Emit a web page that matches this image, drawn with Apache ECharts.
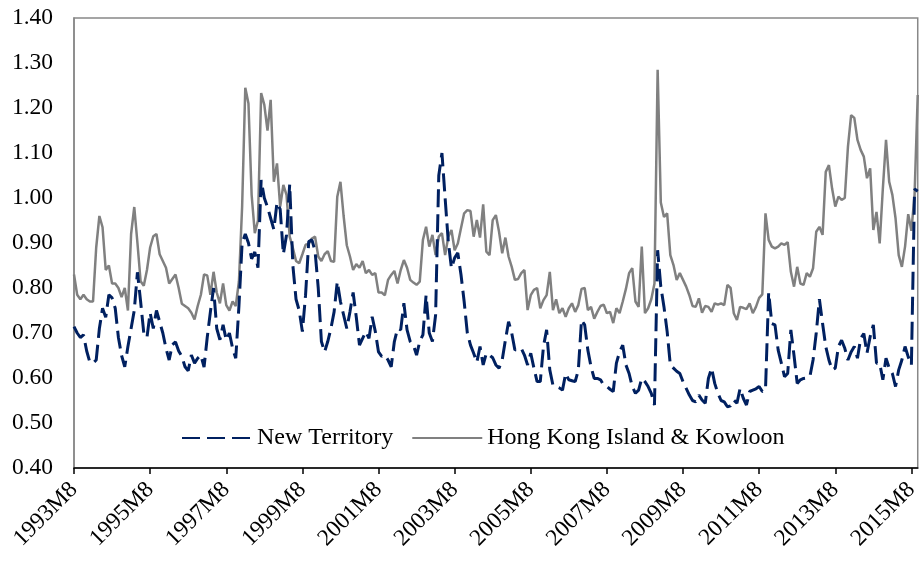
<!DOCTYPE html>
<html>
<head>
<meta charset="utf-8">
<script src="https://cdn.jsdelivr.net/npm/echarts@6/dist/echarts.min.js"></script>
<style>
  html, body { margin: 0; padding: 0; background: #ffffff; }
  #chart { width: 922px; height: 563px; }
</style>
</head>
<body>
<div id="chart"></div>
<script>
// Monthly categories 1993M8 .. 2015M10
const startYear = 1993, startMonth = 8, monthCount = 267;
const categories = [];
for (let k = 0; k < monthCount; k++) {
  const m0 = startMonth - 1 + k;
  categories.push((startYear + Math.floor(m0 / 12)) + 'M' + ((m0 % 12) + 1));
}

const yTicks = [0.40, 0.50, 0.60, 0.70, 0.80, 0.90, 1.00, 1.10, 1.20, 1.30, 1.40];

const seriesNames = ['New Territory', 'Hong Kong Island & Kowloon'];

const newTerritory = [
  0.714,0.70,0.69,0.696,0.66,0.635,0.633,0.64,0.71,0.755,
  0.735,0.785,0.778,0.755,0.69,0.65,0.625,0.67,0.71,0.75,
  0.835,0.77,0.70,0.69,0.745,0.71,0.75,0.725,0.70,0.666,
  0.64,0.674,0.68,0.66,0.648,0.625,0.616,0.651,0.633,0.644,
  0.651,0.624,0.69,0.747,0.80,0.71,0.685,0.718,0.684,0.70,
  0.666,0.644,0.76,0.90,0.92,0.90,0.865,0.88,0.845,1.04,
  1.0,0.98,0.955,0.93,0.99,0.975,0.875,0.918,1.03,0.85,
  0.775,0.75,0.703,0.784,0.903,0.907,0.882,0.80,0.681,0.658,
  0.681,0.71,0.747,0.814,0.77,0.74,0.71,0.747,0.79,0.735,
  0.673,0.688,0.703,0.688,0.736,0.703,0.658,0.648,0.651,0.64,
  0.625,0.681,0.71,0.707,0.766,0.707,0.681,0.673,0.651,0.681,
  0.696,0.784,0.70,0.681,0.74,1.05,1.10,1.0,0.903,0.844,
  0.867,0.878,0.83,0.77,0.70,0.673,0.655,0.635,0.67,0.629,
  0.655,0.651,0.645,0.629,0.622,0.64,0.684,0.725,0.70,0.662,
  0.665,0.666,0.651,0.629,0.655,0.622,0.592,0.592,0.67,0.707,
  0.618,0.584,0.581,0.578,0.573,0.61,0.596,0.594,0.592,0.618,
  0.729,0.718,0.662,0.625,0.599,0.599,0.596,0.584,0.581,0.575,
  0.57,0.633,0.658,0.673,0.629,0.61,0.581,0.566,0.573,0.599,
  0.592,0.581,0.566,0.54,0.884,0.803,0.758,0.703,0.629,0.622,
  0.615,0.61,0.592,0.577,0.562,0.55,0.547,0.562,0.551,0.544,
  0.599,0.622,0.588,0.566,0.55,0.547,0.536,0.538,0.551,0.544,
  0.577,0.555,0.54,0.57,0.573,0.576,0.581,0.57,0.573,0.79,
  0.721,0.718,0.662,0.633,0.603,0.61,0.707,0.65,0.588,0.596,
  0.599,0.60,0.603,0.64,0.70,0.775,0.721,0.67,0.64,0.618,
  0.622,0.67,0.684,0.666,0.64,0.658,0.67,0.644,0.688,0.699,
  0.655,0.692,0.718,0.633,0.633,0.596,0.644,0.622,0.61,0.581,
  0.618,0.64,0.67,0.647,0.629,1.02,1.015
];

const hkIslandKowloon = [
  0.83,0.785,0.775,0.785,0.775,0.77,0.77,0.89,0.96,0.935,
  0.84,0.85,0.81,0.81,0.80,0.78,0.80,0.75,0.92,0.98,
  0.90,0.815,0.805,0.84,0.89,0.915,0.92,0.875,0.86,0.845,
  0.81,0.82,0.83,0.80,0.765,0.76,0.755,0.745,0.73,0.76,
  0.785,0.83,0.828,0.785,0.836,0.79,0.766,0.81,0.762,0.75,
  0.77,0.76,0.815,0.98,1.245,1.21,1.007,0.922,0.95,1.233,
  1.207,1.15,1.218,1.036,1.077,0.981,1.029,1.007,0.914,0.889,
  0.86,0.855,0.875,0.896,0.898,0.91,0.914,0.87,0.86,0.875,
  0.882,0.86,0.858,1.003,1.036,0.96,0.895,0.87,0.84,0.853,
  0.845,0.86,0.833,0.84,0.829,0.833,0.79,0.79,0.784,0.818,
  0.829,0.838,0.81,0.84,0.862,0.845,0.818,0.812,0.807,0.814,
  0.907,0.936,0.892,0.918,0.873,0.914,0.922,0.873,0.914,0.929,
  0.884,0.899,0.933,0.966,0.973,0.971,0.914,0.951,0.912,0.986,
  0.881,0.873,0.951,0.962,0.925,0.877,0.912,0.87,0.847,0.818,
  0.82,0.833,0.84,0.751,0.784,0.796,0.80,0.755,0.773,0.784,
  0.836,0.751,0.775,0.744,0.755,0.736,0.755,0.766,0.747,0.762,
  0.798,0.80,0.751,0.758,0.732,0.747,0.76,0.763,0.744,0.747,
  0.722,0.755,0.744,0.77,0.798,0.833,0.844,0.77,0.758,0.892,
  0.744,0.755,0.775,0.81,1.285,0.99,0.958,0.966,0.873,0.851,
  0.818,0.833,0.818,0.803,0.784,0.76,0.758,0.777,0.745,0.76,
  0.758,0.747,0.766,0.763,0.766,0.762,0.807,0.80,0.744,0.729,
  0.758,0.756,0.753,0.766,0.744,0.758,0.778,0.786,0.966,0.907,
  0.892,0.888,0.892,0.899,0.896,0.902,0.836,0.803,0.847,0.81,
  0.807,0.833,0.825,0.844,0.925,0.936,0.918,1.058,1.073,1.021,
  0.981,1.003,0.996,1.0,1.114,1.184,1.178,1.129,1.107,1.092,
  1.044,1.066,0.929,0.969,0.899,1.021,1.129,1.036,1.007,0.955,
  0.873,0.847,0.892,0.964,0.927,1.007,1.229
];

const FONT = '"Liberation Serif", "Times New Roman", serif';

const chart = echarts.init(document.getElementById('chart'), null, { renderer: 'canvas' });
chart.setOption({
  animation: false,
  backgroundColor: '#ffffff',
  grid: {
    left: 74, right: 4, top: 18, bottom: 95,
    show: true, borderColor: '#888888', borderWidth: 1.5, backgroundColor: 'transparent'
  },
  legend: {
    left: 181, top: 426, padding: 0,
    itemWidth: 70, itemHeight: 14, itemGap: 18,
    itemStyle: { opacity: 0, borderWidth: 0 },
    textStyle: { fontFamily: FONT, fontSize: 24, color: '#000000', padding: [0, 0, 0, 0] },
    data: seriesNames
  },
  xAxis: {
    type: 'category',
    data: categories,
    boundaryGap: false,
    axisLine: { show: true, lineStyle: { color: '#000000', width: 1.5 } },
    axisTick: { show: true, interval: 23, length: 6, inside: false, lineStyle: { color: '#000000', width: 1.5 } },
    axisLabel: {
      interval: 23, rotate: 45, margin: 18, padding: [16, 0, 0, 0],
      fontFamily: FONT, fontSize: 23.5, color: '#000000'
    },
    splitLine: { show: false }
  },
  yAxis: {
    type: 'value',
    min: yTicks[0], max: yTicks[yTicks.length - 1], interval: 0.1,
    axisLine: { show: true, lineStyle: { color: '#888888', width: 1.5 } },
    axisTick: { show: false },
    axisLabel: {
      margin: 21, fontFamily: FONT, fontSize: 23.5, color: '#000000',
      formatter: function (v) { return v.toFixed(2); }
    },
    splitLine: { show: false }
  },
  series: [
    {
      name: seriesNames[0], type: 'line', data: newTerritory,
      symbol: 'none', showSymbol: false, z: 3,
      lineStyle: { color: '#002060', width: 3, type: [18, 7] },
      itemStyle: { color: '#002060' }
    },
    {
      name: seriesNames[1], type: 'line', data: hkIslandKowloon,
      symbol: 'none', showSymbol: false, z: 2,
      lineStyle: { color: '#808080', width: 2.5 },
      itemStyle: { color: '#808080' }
    }
  ]
});
</script>
</body>
</html>
